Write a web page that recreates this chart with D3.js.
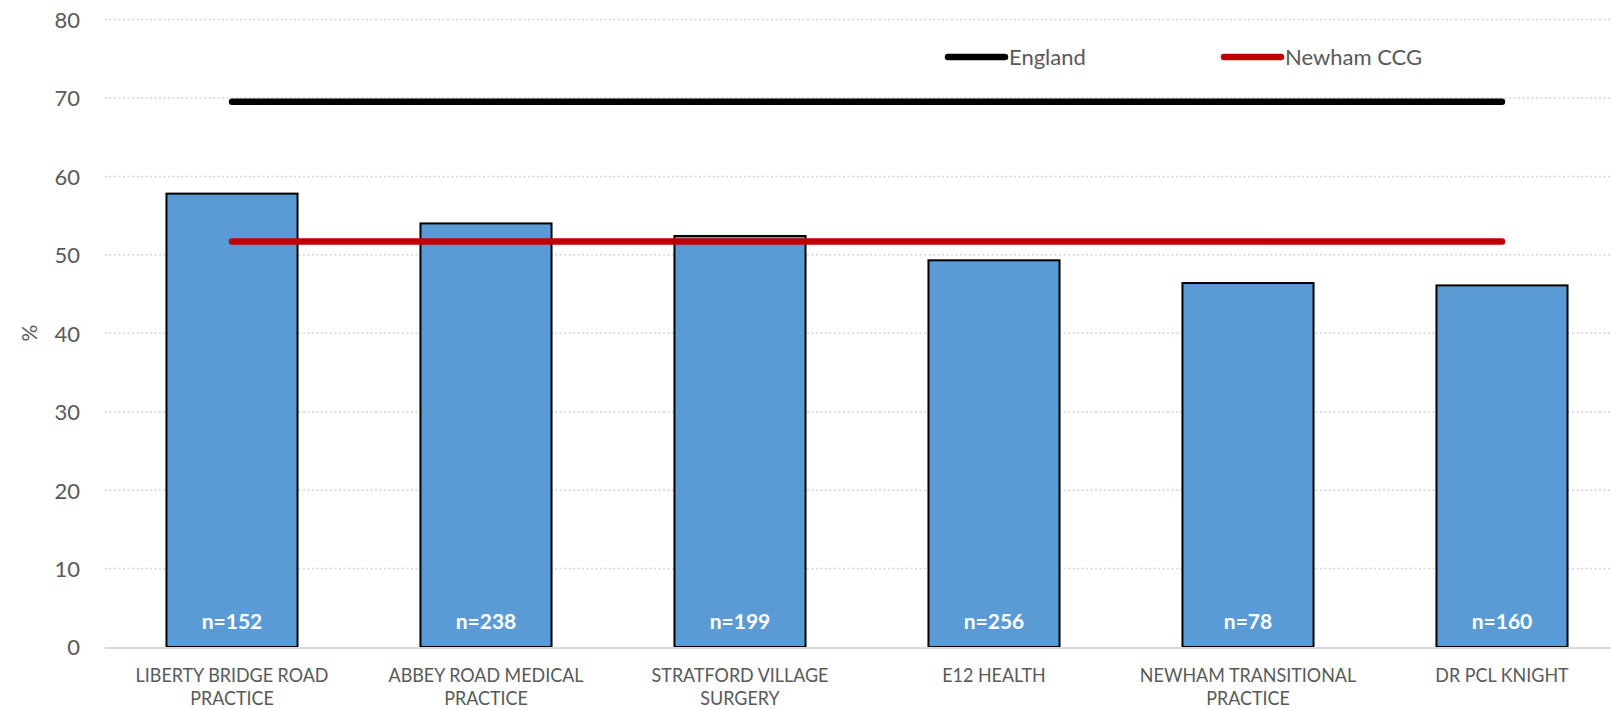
<!DOCTYPE html>
<html>
<head>
<meta charset="utf-8">
<script src="https://cdn.jsdelivr.net/npm/d3@7"></script>
<style>
  html, body { margin: 0; padding: 0; background: #fff; }
  svg { display: block; }
  text { font-family: Lato, "Open Sans", "DejaVu Sans", sans-serif; }
</style>
</head>
<body>
<script>
// ---- data ----
const categories = [
  ["LIBERTY BRIDGE ROAD", "PRACTICE"],
  ["ABBEY ROAD MEDICAL", "PRACTICE"],
  ["STRATFORD VILLAGE", "SURGERY"],
  ["E12 HEALTH"],
  ["NEWHAM TRANSITIONAL", "PRACTICE"],
  ["DR PCL KNIGHT"]
];
const values = [57.8, 54.0, 52.4, 49.3, 46.4, 46.1];
const sampleSizes = ["n=152", "n=238", "n=199", "n=256", "n=78", "n=160"];
const englandValue = 69.5;
const newhamValue = 51.7;
const yTicks = [0, 10, 20, 30, 40, 50, 60, 70, 80];
const legendItems = ["England", "Newham CCG"];

// ---- layout ----
const W = 1611, H = 710;
const svg = d3.select("body").append("svg").attr("width", W).attr("height", H);

const keys = categories.map((c, i) => i);
const x = d3.scaleBand().domain(keys).range([105, 1629]).paddingInner(0.484).paddingOuter(0.242);
const xc = d3.scaleBand().domain(keys).range([105, 1629]).padding(0);
const y = d3.scaleLinear().domain([0, 80]).range([647, 19.5]);

// gridlines
svg.append("g").selectAll("line").data(yTicks.filter(d => d > 0)).join("line")
  .attr("x1", 105).attr("x2", 1629)
  .attr("y1", d => y(d)).attr("y2", d => y(d))
  .attr("stroke", "#d4d4d4").attr("stroke-width", 1.5).attr("stroke-dasharray", "2,2.5");

// y axis tick labels
const yAxis = d3.axisLeft(y).tickValues(yTicks).tickSize(0).tickPadding(0);
const yg = svg.append("g").attr("transform", "translate(80,0)").call(yAxis);
yg.select(".domain").remove();
yg.selectAll("text").attr("fill", "#595959").style("font-size", "22px")
  .style("font-family", "Lato, 'Open Sans', sans-serif").attr("dy", "0.36em");

// y axis title
svg.append("text").attr("transform", "translate(28,333) rotate(-90)")
  .attr("text-anchor", "middle").attr("dominant-baseline", "central")
  .attr("fill", "#595959").style("font-size", "21px").text("%");

// bars
svg.append("g").selectAll("rect").data(values).join("rect")
  .attr("x", (d, i) => x(i)).attr("width", x.bandwidth())
  .attr("y", d => y(d)).attr("height", d => y(0) - y(d))
  .attr("fill", "#5B9BD5").attr("stroke", "#000").attr("stroke-width", 2);

// zero axis line
svg.append("line").attr("x1", 105).attr("x2", 1629).attr("y1", y(0) + 1).attr("y2", y(0) + 1)
  .attr("stroke", "#d9d9d9").attr("stroke-width", 2);

// n labels
svg.append("g").selectAll("text").data(sampleSizes).join("text")
  .attr("x", (d, i) => x(i) + x.bandwidth() / 2).attr("y", y(0) - 18)
  .attr("text-anchor", "middle").attr("fill", "#fff")
  .style("font-size", "21px").style("font-weight", "bold").text(d => d);

// reference lines
const c0 = xc(0) + xc.bandwidth() / 2, c5 = xc(5) + xc.bandwidth() / 2;
svg.append("line").attr("x1", c0).attr("x2", c5).attr("y1", y(englandValue)).attr("y2", y(englandValue))
  .attr("stroke", "#000").attr("stroke-width", 6.5).attr("stroke-linecap", "round");
svg.append("line").attr("x1", c0).attr("x2", c5).attr("y1", y(newhamValue)).attr("y2", y(newhamValue))
  .attr("stroke", "#C00000").attr("stroke-width", 6.5).attr("stroke-linecap", "round");

// category labels
const catG = svg.append("g");
const labels = catG.selectAll("text").data(categories).join("text")
  .attr("text-anchor", "middle").attr("fill", "#595959").style("font-size", "19px");
labels.each(function(lines, i) {
  const t = d3.select(this);
  lines.forEach((ln, k) => {
    t.append("tspan").attr("x", 0).attr("y", k * 23).text(ln);
  });
});
// compress horizontally to match narrow source font
const probe = catG.append("text").style("font-size", "19px").text(categories[0][0]);
const sx = 193 / probe.node().getComputedTextLength();
probe.remove();
labels.attr("transform", (d, i) => `translate(${xc(i) + xc.bandwidth() / 2},682) scale(${sx},1)`);

// legend
const legColors = ["#000", "#C00000"];
const legX = [948, 1224];
legendItems.forEach((name, i) => {
  svg.append("line").attr("x1", legX[i]).attr("x2", legX[i] + 57).attr("y1", 57).attr("y2", 57)
    .attr("stroke", legColors[i]).attr("stroke-width", 6.5).attr("stroke-linecap", "round");
  svg.append("text").attr("x", legX[i] + 61).attr("y", 57).attr("dy", "0.36em")
    .attr("fill", "#595959").style("font-size", "22px").text(name);
});
</script>
</body>
</html>
